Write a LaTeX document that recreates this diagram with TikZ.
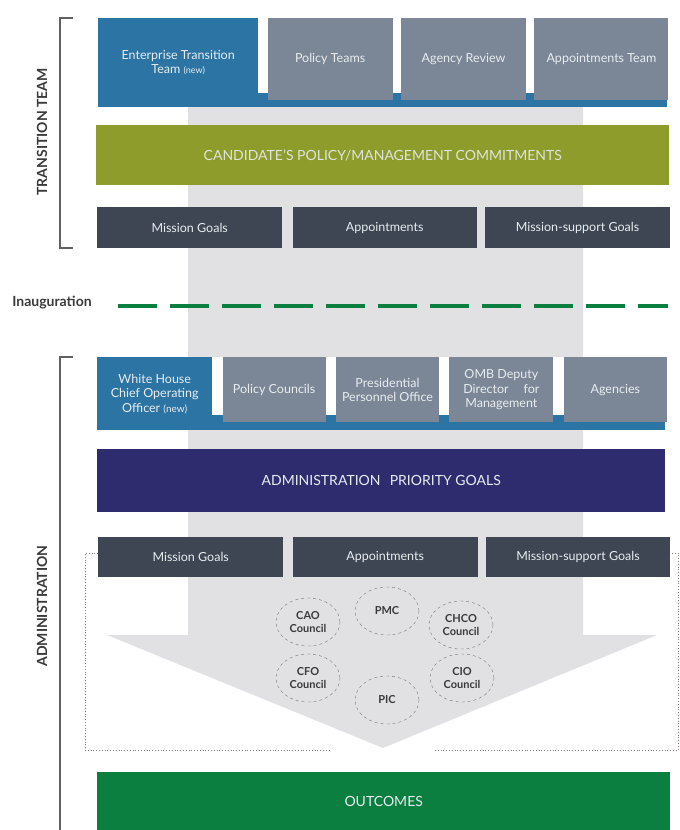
\documentclass[tikz,border=0pt]{standalone}
\usepackage{fontspec}
\setmainfont{Lato}
\usetikzlibrary{positioning,shapes.geometric}

\definecolor{ttblue}{HTML}{2B74A3}
\definecolor{ttgrey}{HTML}{7B8796}
\definecolor{ttolive}{HTML}{8D9C2B}
\definecolor{ttdark}{HTML}{3D4652}
\definecolor{ttnavy}{HTML}{2E2C6E}
\definecolor{ttgreen}{HTML}{0A7F3F}
\definecolor{shaft}{HTML}{E1E1E3}
\definecolor{boxtext}{HTML}{E8ECF0}
\definecolor{sidetext}{HTML}{3A3A3A}
\definecolor{dotline}{HTML}{8C7F78}

\begin{document}
\begin{tikzpicture}[x=1pt,y=-1pt,
						box/.style={inner sep=1pt,align=center,text=boxtext,font=\fontsize{12.5}{14.5}\selectfont},
						bluebox/.style={box,fill=ttblue},
						greybox/.style={box,fill=ttgrey},
						darkbox/.style={box,fill=ttdark,minimum height=41pt},
						widebox/.style={box,font=\fontsize{14}{16}\selectfont},
						council/.style={ellipse,draw=sidetext!70,dashed,minimum width=64pt,minimum height=48pt,inner sep=0pt,align=center,text=sidetext,font=\bfseries\fontsize{11}{12.5}\selectfont},
						side/.style={rotate=90,text=sidetext,font=\bfseries\fontsize{14}{16}\selectfont},
						bracket/.style={draw=sidetext!80,line width=1.2pt}]
		\useasboundingbox (0,0) rectangle (680,830);

		% big arrow behind everything
		\fill[shaft] (188,105) -- (583,105) -- (583,635) -- (657,635) -- (383,748) -- (107,635) -- (188,635) -- cycle;

		% dotted frame round the councils
		\draw[dotline,dotted,line width=0.8pt] (98,553) -- (85,553) -- (85,750) -- (330,750);
		\draw[dotline,dotted,line width=0.8pt] (435,750) -- (678,750) -- (678,553) -- (670,553);

		% transition team
		\fill[ttblue] (98,93) rectangle (667,107);
		\node[bluebox,minimum width=160pt,minimum height=89pt,anchor=north west]	(ett)	at (98,18)	{Enterprise Transition\\Team {\fontsize{9}{10}\selectfont(new)}};
		\node[greybox,minimum width=125pt,minimum height=82pt,right=9pt of ett.north east,anchor=north west]	(pt)	{Policy Teams};
		\node[greybox,minimum width=125pt,minimum height=82pt,right=8pt of pt.north east,anchor=north west]	(ar)	{Agency Review};
		\node[greybox,minimum width=134pt,minimum height=82pt,right=8pt of ar.north east,anchor=north west]	(at)	{Appointments Team};

		\node[widebox,fill=ttolive,text=boxtext!90!ttolive,minimum width=573pt,minimum height=60pt,anchor=north west]	(cand)	at (96,125)	{CANDIDATE'S POLICY/MANAGEMENT COMMITMENTS};

		\node[darkbox,minimum width=185pt,anchor=north west]	(mg1)	at (97,207)	{Mission Goals};
		\node[darkbox,minimum width=184pt,right=10pt of mg1.north east,anchor=north west]	(ap1)	{Appointments};
		\node[darkbox,minimum width=185pt,right=8pt of ap1.north east,anchor=north west]	(ms1)	{Mission-support Goals};

		\draw[bracket] (73,18) -- (60,18) -- (60,248) -- (73,248);
		\node[side]	(tt)	at (42,132)	{TRANSITION TEAM};

		% inauguration
		\node[text=sidetext,font=\bfseries\fontsize{14}{16}\selectfont]	(inaug)	at (52,303)	{Inauguration};
		\coordinate (dl) at (118,306);
		\coordinate (dr) at (668,306);
		\draw[ttgreen,line width=4pt,dash pattern=on 39pt off 13pt] (dl) -- (dr);

		% administration
		\fill[white] (97,357) rectangle (665,415);
		\fill[ttblue] (97,415) rectangle (665,430);
		\node[bluebox,minimum width=115pt,minimum height=73pt,anchor=north west]	(whc)	at (97,357)	{White House\\Chief Operating\\Officer {\fontsize{10}{11}\selectfont(new)}};
		\node[greybox,minimum width=103pt,minimum height=65pt,right=10pt of whc.north east,anchor=north west]	(pc)	{Policy Councils};
		\node[greybox,minimum width=103pt,minimum height=65pt,right=10pt of pc.north east,anchor=north west]	(ppo)	{Presidential\\Personnel Office};
		\node[greybox,minimum width=104pt,minimum height=65pt,right=10pt of ppo.north east,anchor=north west]	(omb)	{OMB Deputy\\Director\hspace{1.2em}for\\Management};
		\node[greybox,minimum width=103pt,minimum height=65pt,right=10pt of omb.north east,anchor=north west]	(ag)	{Agencies};

		\node[widebox,fill=ttnavy,minimum width=568pt,minimum height=63pt,anchor=north west]	(apg)	at (97,449)	{ADMINISTRATION\hspace{0.4em} PRIORITY GOALS};

		\node[darkbox,minimum width=185pt,minimum height=40pt,anchor=north west]	(mg2)	at (98,537)	{Mission Goals};
		\node[darkbox,minimum width=185pt,minimum height=40pt,right=9pt of mg2.north east,anchor=north west]	(ap2)	{Appointments};
		\node[darkbox,minimum width=184pt,minimum height=40pt,right=8pt of ap2.north east,anchor=north west]	(ms2)	{Mission-support Goals};

		\node[council]	(cao)	at (308,622)	{CAO\\Council};
		\node[council]	(pmc)	at (387,611)	{PMC};
		\node[council]	(chco)	at (461,625)	{CHCO\\Council};
		\node[council]	(cfo)	at (308,678)	{CFO\\Council};
		\node[council]	(pic)	at (387,700)	{PIC};
		\node[council]	(cio)	at (462,678)	{CIO\\Council};

		\node[widebox,fill=ttgreen,minimum width=573pt,minimum height=58pt,anchor=north west]	(out)	at (97,772)	{OUTCOMES};

		\draw[bracket] (73,357) -- (60,357) -- (60,830);
		\node[side]	(adm)	at (42,606)	{ADMINISTRATION};
	\end{tikzpicture}
\end{document}
